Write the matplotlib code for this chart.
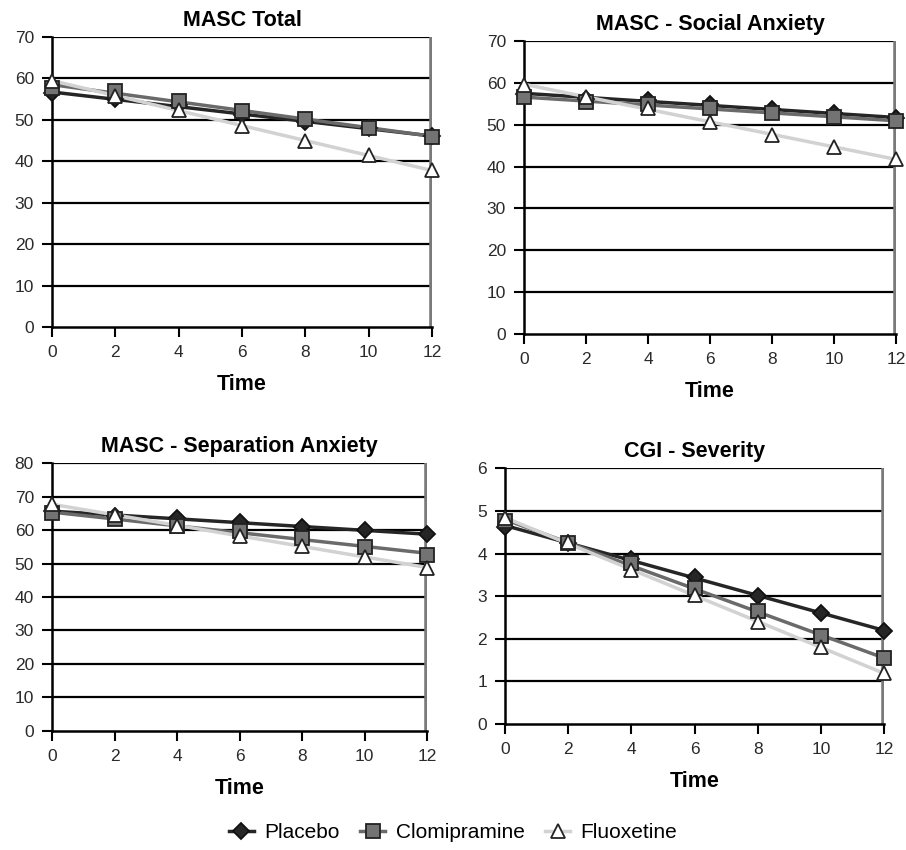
import numpy as np
import matplotlib
matplotlib.use("Agg")
import matplotlib.pyplot as plt
from matplotlib.lines import Line2D

plt.rcParams['font.family'] = ['Liberation Sans', 'DejaVu Sans']

time = [0, 2, 4, 6, 8, 10, 12]
series_names = ["Placebo", "Clomipramine", "Fluoxetine"]

# MASC Total
total_placebo = [56.5, 55.0, 53.5, 51.0, 49.5, 48.0, 46.0]
total_clomi = [57.7, 57.0, 54.6, 52.2, 50.2, 48.0, 45.8]
total_fluox = [59.4, 55.8, 52.3, 48.5, 44.8, 41.4, 37.8]

# MASC - Social Anxiety
social_placebo = [57.4, 56.2, 55.8, 54.8, 53.6, 52.7, 51.5]
social_clomi = [56.5, 55.4, 54.9, 53.9, 52.7, 51.9, 50.8]
social_fluox = [59.5, 56.6, 53.9, 50.7, 47.5, 44.7, 41.7]

# MASC - Separation Anxiety
sep_placebo = [65.8, 64.2, 63.5, 62.5, 61.0, 60.0, 58.7]
sep_clomi = [65.2, 63.2, 61.3, 59.6, 57.6, 55.1, 52.7]
sep_fluox = [67.8, 64.6, 61.3, 58.2, 55.3, 52.0, 48.8]

# CGI - Severity
cgi_placebo = [4.63, 4.24, 3.87, 3.46, 3.01, 2.60, 2.18]
cgi_clomi = [4.77, 4.24, 3.77, 3.18, 2.64, 2.07, 1.54]
cgi_fluox = [4.83, 4.26, 3.61, 3.02, 2.40, 1.80, 1.19]

titles = ["MASC Total", "MASC - Social Anxiety", "MASC - Separation Anxiety", "CGI - Severity"]
panel_data = [
    (total_placebo, total_clomi, total_fluox),
    (social_placebo, social_clomi, social_fluox),
    (sep_placebo, sep_clomi, sep_fluox),
    (cgi_placebo, cgi_clomi, cgi_fluox),
]
y_ticks = [list(range(0, 71, 10)), list(range(0, 71, 10)), list(range(0, 81, 10)), list(range(0, 7, 1))]

line_colors = ["#262626", "#6a6a6a", "#d2d2d2"]
marker_styles = [
    dict(marker="D", markersize=8.5, markerfacecolor="#262626", markeredgecolor="#111111"),
    dict(marker="s", markersize=9.5, markerfacecolor="#737373", markeredgecolor="#222222"),
    dict(marker="^", markersize=10.5, markerfacecolor="white", markeredgecolor="#222222"),
]

W, H = 906, 850
fig = plt.figure(figsize=(W / 100, H / 100), dpi=100)

boxes_px = [
    (52, 36.7, 432, 327),
    (524, 40.7, 896, 334.3),
    (52, 463.3, 427, 730.7),
    (505, 468.3, 884, 724),
]

for i, (x0, y0, x1, y1) in enumerate(boxes_px):
    ax = fig.add_axes([x0 / W, 1 - y1 / H, (x1 - x0) / W, (y1 - y0) / H])
    yt = y_ticks[i]
    ax.set_xlim(0, 12)
    ax.set_ylim(yt[0], yt[-1])
    ax.set_xticks(time)
    ax.set_yticks(yt)
    for yv in yt[1:]:
        ax.axhline(yv, color="black", lw=1.6, zorder=1)
    ax.axvline(12, color="#7a7a7a", lw=4, zorder=1.5)
    for s in ["top", "right"]:
        ax.spines[s].set_visible(False)
    ax.spines["left"].set_linewidth(1.8)
    ax.spines["bottom"].set_linewidth(1.8)
    ax.tick_params(axis="both", direction="out", length=7, width=1.5,
                   labelsize=12.5, labelcolor="#2a2a2a", pad=6)
    for k, vals in enumerate(panel_data[i]):
        coef = np.polyfit(time, vals, 1)
        fit = np.polyval(coef, time)
        ax.plot(time, fit, color=line_colors[k], lw=2.5, zorder=3 + k * 0.1, clip_on=False)
    for k, vals in enumerate(panel_data[i]):
        ax.plot(time, vals, linestyle="none", zorder=5 + k, clip_on=False,
                markeredgewidth=1.3, **marker_styles[k])
    ax.set_title(titles[i], fontsize=15.5, fontweight="bold", pad=8)
    ax.set_xlabel("Time", fontsize=15.5, fontweight="bold", labelpad=10)

handles = [
    Line2D([0], [0], color=line_colors[k], lw=2.5, **marker_styles[k], markeredgewidth=1.3)
    for k in range(3)
]
fig.legend(handles, series_names, loc="center", bbox_to_anchor=(0.5, 1 - 833 / H),
           ncol=3, frameon=False, fontsize=15, handlelength=1.2, handletextpad=0.5,
           columnspacing=1.0)

fig.savefig("out.png", dpi=100, facecolor="white")
